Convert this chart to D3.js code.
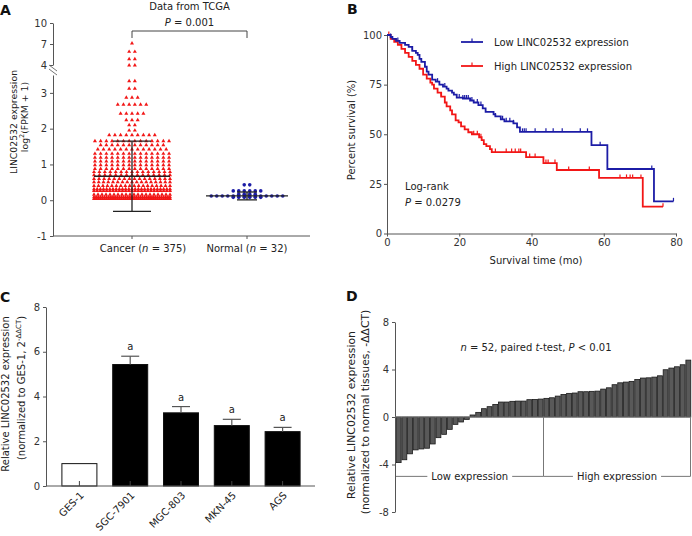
<!DOCTYPE html>
<html><head><meta charset="utf-8">
<script src="https://cdn.jsdelivr.net/npm/d3@7"></script>
<style>
body{margin:0;background:#fff}
svg{display:block;font-family:"DejaVu Sans",Verdana,sans-serif}
.tick text{font-size:10px;fill:#333;font-family:"DejaVu Sans",Verdana,sans-serif}
.axis path,.axis line{stroke:#555}
</style>
</head><body>
<svg id="c" width="692" height="536"></svg>
<script>
// ---------- Panel A data (rows of the scatter: value level, number of samples) ----------
const groupsA = ["Cancer", "Normal"];
const cancerLevels = [7.1,5.9,4.85,3.95,3.33,3.12,2.87,2.67,2.42,2.24,2.1,1.95,1.82,1.65,1.54,1.42,1.3,1.19,1.09,0.98,0.88,0.79,0.7,0.6,0.51,0.4,0.31,0.26,0.16,0.09,0.04];
const cancerCounts = [1,2,2,2,2,2,3,6,5,3,2,2,9,14,12,13,14,14,14,14,14,15,15,16,17,18,25,25,20,37,37];
const normalLevels = [0.43,0.26,0.17,0.12,0.08];
const normalCounts = [2,6,4,14,6];
const cancerStats = {mean:0.67, sd:0.98};
const normalStats = {mean:0.12, sd:0.11};
const yTicksLowA = [-1,0,1,2,3];
const yTicksUpA = [4,7,10];

// ---------- Panel B data (Kaplan-Meier steps) ----------
const lowTimes = [0,1,1.5,2.5,3.5,5,6,7,8,8.5,9,9.5,10.5,11,11.5,12.5,13.5,14.5,15.5,16.5,17,18,18.5,19.3,21,23,24,25.3,26.5,27.3,29.5,30,31.5,32.5,35,36,36.8,56.6,61,73.9,79.3];
const lowSurv  = [100,99,98,97,96,95,94,92,91,90,88,86.5,84,81.5,80,77.5,76.5,75,74,73,72,71,70,68.5,68,67,66,64.7,63,61.3,60,59,57.5,56.5,55.5,53.5,51.2,44.5,32.5,16.2,16.2];
const lowCensor = [1,3,7,14,16,20,21,21.5,22,22.5,23.5,25,26,30,32,33,34,35,37.5,38,38.5,41,44,46,48.5,53.5,55.5,59,73.3,79.3];
const highTimes = [0,1,2,3,4,5,6,7,8,9,10,11,12,12.5,13,14,15,16,16.5,17.5,18,19,19.8,20.5,21.5,22.5,23.5,25.5,26.2,26.8,27.5,28.5,29,38.5,43.3,47,58.7,70.8,76.4];
const highSurv  = [100,98,96.5,95,93,91,89,87,85,83,80,78,76,75,73,71,69,66,64,62,60,57,56,54,52.5,51,50,48.5,47,45,44,42.5,41,38.5,35.5,32,28,13.5,13.5];
const highCensor = [0.5,2.5,15,24,25,26,30,33,34.5,35.5,36.5,37,39.5,41,44,44.6,46.5,50.3,56,64.5,66.3,67.3,68,70.3,76.4];
const xTicksB = [0,20,40,60,80];
const yTicksB = [0,25,50,75,100];

// ---------- Panel C data ----------
const cellLines = ["GES-1","SGC-7901","MGC-803","MKN-45","AGS"];
const cellMeans = [1.0,5.43,3.27,2.7,2.43];
const cellErr   = [0,0.37,0.28,0.28,0.19];
const cellSig   = ["","a","a","a","a"];
const yTicksC = [0,2,4,6,8];

// ---------- Panel D data ----------
const pairedValues = [-3.84,-3.6,-3.1,-2.77,-2.69,-2.63,-2.27,-1.74,-1.46,-1.04,-0.62,-0.42,-0.2,0.17,0.39,0.7,0.87,1.06,1.26,1.26,1.32,1.34,1.34,1.46,1.48,1.51,
  1.57,1.62,1.76,1.9,1.99,2.02,2.13,2.13,2.16,2.18,2.35,2.46,2.72,2.88,2.94,3.0,3.16,3.28,3.3,3.36,3.47,3.98,4.12,4.23,4.4,4.79];
const yTicksD = [-8,-4,0,4,8];
const splitValue = -5;

const RED = "#f21616", BLUE = "#1c1ca6";
const fmt = d => String(d);
const svg = d3.select("#c");

function letter(x, y, t){
  svg.append("text").attr("x",x).attr("y",y).attr("font-size",14).attr("font-weight","bold").attr("fill","#111").text(t);
}
function styleAxis(g){
  g.attr("class","axis").attr("font-family",null).attr("font-size",null);
  g.selectAll(".tick line").attr("stroke","#555"); g.select(".domain").attr("stroke","#555");
}

// =================== Panel A ===================
letter(0,15,"A");
const yLow = d3.scaleLinear().domain([-1,3.5]).range([236,75]);
const yUp = d3.scaleLinear().domain([4,10]).range([65,23]);
const yA = v => v >= 3.75 ? yUp(v) : yLow(v);
const xA = d3.scalePoint().domain(groupsA).range([132,247]);
const axLow = svg.append("g").attr("transform","translate(53,0)")
  .call(d3.axisLeft(yLow).tickValues(yTicksLowA).tickFormat(fmt).tickSize(3).tickSizeOuter(0).tickPadding(3));
styleAxis(axLow);
const axUp = svg.append("g").attr("transform","translate(53,0)")
  .call(d3.axisLeft(yUp).tickValues(yTicksUpA).tickFormat(fmt).tickSize(3).tickSizeOuter(0).tickPadding(3));
styleAxis(axUp);
// break marks
[0,4].forEach(o=>svg.append("line").attr("x1",49).attr("y1",65+o).attr("x2",57).attr("y2",71+o).attr("stroke","#666").attr("stroke-width",0.9));
// x axis
svg.append("line").attr("x1",53).attr("x2",310).attr("y1",yLow(-1)).attr("y2",yLow(-1)).attr("stroke","#555");
groupsA.forEach(g=>svg.append("line").attr("x1",xA(g)).attr("x2",xA(g)).attr("y1",yLow(-1)).attr("y2",yLow(-1)+3).attr("stroke","#555"));
const labA = [["Cancer","375",11],["Normal","32",0]];
labA.forEach(([g,n,dx])=>{
  const t = svg.append("text").attr("x",xA(g)+dx).attr("y",252).attr("text-anchor","middle").attr("font-size",10).attr("fill","#222");
  t.append("tspan").text(g+" (");
  t.append("tspan").attr("font-style","italic").text("n");
  t.append("tspan").text(" = "+n+")");
});
// y label
svg.append("text").attr("transform","translate(17,122) rotate(-90)").attr("text-anchor","middle").attr("font-size",9.3).attr("fill","#222").text("LINC02532 expression");
const ylA2 = svg.append("text").attr("transform","translate(28,117) rotate(-90)").attr("text-anchor","middle").attr("font-size",9.3).attr("fill","#222");
ylA2.append("tspan").text("log");
ylA2.append("tspan").attr("font-size",6.5).attr("dy",-4).text("2");
ylA2.append("tspan").attr("dy",4).text("(FPKM + 1)");
// title & bracket
svg.append("text").attr("x",189.5).attr("y",10).attr("text-anchor","middle").attr("font-size",10).attr("fill","#222").text("Data from TCGA");
const pA = svg.append("text").attr("x",189.5).attr("y",26).attr("text-anchor","middle").attr("font-size",10).attr("fill","#222");
pA.append("tspan").attr("font-style","italic").text("P");
pA.append("tspan").text(" = 0.001");
svg.append("path").attr("d",`M${xA("Cancer")},38V31H${xA("Normal")}V38`).attr("fill","none").attr("stroke","#444").attr("stroke-width",1);

function rowLayout(levels, counts, cx, spacing, maxW){
  const pts=[];
  levels.forEach((v,i)=>{
    const n=counts[i];
    const s = n>1 ? Math.min(spacing, maxW/(n-1)) : 0;
    for(let k=0;k<n;k++) pts.push({x:cx+(k-(n-1)/2)*s, y:yA(v)});
  });
  return pts;
}
const cancerPts = rowLayout(cancerLevels,cancerCounts,xA("Cancer"),5.7,76);
svg.append("g").selectAll("path").data(cancerPts).join("path")
  .attr("transform",d=>`translate(${d.x},${d.y})`).attr("d",d3.symbol(d3.symbolTriangle,7)).attr("fill",RED);
const normalPts = rowLayout(normalLevels,normalCounts,xA("Normal"),5.5,74);
svg.append("g").selectAll("circle").data(normalPts).join("circle")
  .attr("cx",d=>d.x).attr("cy",d=>d.y).attr("r",1.8).attr("fill",BLUE);
function meanSD(cx, st, halfMean, halfCap){
  const g=svg.append("g").attr("stroke","#222").attr("stroke-width",1.3);
  g.append("line").attr("x1",cx-halfMean).attr("x2",cx+halfMean).attr("y1",yA(st.mean)).attr("y2",yA(st.mean));
  g.append("line").attr("x1",cx).attr("x2",cx).attr("y1",yA(st.mean+st.sd)).attr("y2",yA(st.mean-st.sd));
  [st.mean+st.sd, st.mean-st.sd].forEach(v=>g.append("line").attr("x1",cx-halfCap).attr("x2",cx+halfCap).attr("y1",yA(v)).attr("y2",yA(v)));
}
meanSD(xA("Cancer"),cancerStats,38,19);
meanSD(xA("Normal"),normalStats,41,10);

// =================== Panel B ===================
letter(347,14,"B");
const xB = d3.scaleLinear().domain([0,80]).range([387,676]);
const yB = d3.scaleLinear().domain([0,100]).range([233.5,35]);
const axBx = svg.append("g").attr("transform","translate(0,233.5)").call(d3.axisBottom(xB).tickValues(xTicksB).tickFormat(fmt).tickSize(3).tickSizeOuter(0).tickPadding(2));
styleAxis(axBx);
const axBy = svg.append("g").attr("transform","translate(387,0)").call(d3.axisLeft(yB).tickValues(yTicksB).tickFormat(fmt).tickSize(3).tickSizeOuter(0).tickPadding(2));
styleAxis(axBy);
svg.append("text").attr("x",536).attr("y",264).attr("text-anchor","middle").attr("font-size",10).attr("fill","#222").text("Survival time (mo)");
svg.append("text").attr("transform","translate(355,130) rotate(-90)").attr("text-anchor","middle").attr("font-size",10).attr("fill","#222").text("Percent survival (%)");
const lineB = d3.line().x(d=>xB(d[0])).y(d=>yB(d[1])).curve(d3.curveStepAfter);
function survAt(times, surv, t){ let v=surv[0]; for(let i=0;i<times.length;i++){ if(times[i]<=t) v=surv[i]; else break; } return v; }
function km(times, surv, cens, color){
  svg.append("path").datum(times.map((t,i)=>[t,surv[i]])).attr("d",lineB).attr("fill","none").attr("stroke",color).attr("stroke-width",1.8);
  svg.append("g").selectAll("line").data(cens).join("line")
    .attr("x1",d=>xB(d)).attr("x2",d=>xB(d)).attr("y1",d=>yB(survAt(times,surv,d))).attr("y2",d=>yB(survAt(times,surv,d))-3.5)
    .attr("stroke",color).attr("stroke-width",1.2);
}
km(highTimes,highSurv,highCensor,RED);
km(lowTimes,lowSurv,lowCensor,BLUE);
// legend
[["Low LINC02532 expression",BLUE,42],["High LINC02532 expression",RED,66]].forEach(([t,c,y])=>{
  svg.append("line").attr("x1",461).attr("x2",483).attr("y1",y).attr("y2",y).attr("stroke",c).attr("stroke-width",1.8);
  svg.append("line").attr("x1",472).attr("x2",472).attr("y1",y).attr("y2",y-3.5).attr("stroke",c).attr("stroke-width",1.2);
  svg.append("text").attr("x",494).attr("y",y+3.5).attr("font-size",10).attr("fill","#222").text(t);
});
svg.append("text").attr("x",405).attr("y",190).attr("font-size",10).attr("fill","#222").text("Log-rank");
const pB = svg.append("text").attr("x",405).attr("y",206).attr("font-size",10).attr("fill","#222");
pB.append("tspan").attr("font-style","italic").text("P");
pB.append("tspan").text(" = 0.0279");

// =================== Panel C ===================
letter(0,302,"C");
const yC = d3.scaleLinear().domain([0,8]).range([486,307]);
const xC = d3.scalePoint().domain(cellLines).range([54,308]).padding(0.5);
const bwC = 35;
svg.append("g").selectAll("rect").data(cellLines).join("rect")
  .attr("x",d=>xC(d)-bwC/2).attr("width",bwC).attr("y",(d,i)=>yC(cellMeans[i])).attr("height",(d,i)=>yC(0)-yC(cellMeans[i]))
  .attr("fill",(d,i)=>i===0?"#fff":"#000").attr("stroke","#111").attr("stroke-width",1);
cellLines.forEach((d,i)=>{
  if(cellErr[i]>0){
    const g=svg.append("g").attr("stroke","#555").attr("stroke-width",1.2);
    g.append("line").attr("x1",xC(d)).attr("x2",xC(d)).attr("y1",yC(cellMeans[i])).attr("y2",yC(cellMeans[i]+cellErr[i]));
    g.append("line").attr("x1",xC(d)-9).attr("x2",xC(d)+9).attr("y1",yC(cellMeans[i]+cellErr[i])).attr("y2",yC(cellMeans[i]+cellErr[i]));
  }
  if(cellSig[i]) svg.append("text").attr("x",xC(d)).attr("y",yC(cellMeans[i]+cellErr[i])-6).attr("text-anchor","middle").attr("font-size",10).attr("fill","#222").text(cellSig[i]);
});
const axCy = svg.append("g").attr("transform","translate(46,0)").call(d3.axisLeft(yC).tickValues(yTicksC).tickFormat(fmt).tickSize(3).tickSizeOuter(0).tickPadding(3));
styleAxis(axCy);
svg.append("line").attr("x1",46).attr("x2",315).attr("y1",yC(0)).attr("y2",yC(0)).attr("stroke","#555");
cellLines.forEach(d=>{
  svg.append("line").attr("x1",xC(d)).attr("x2",xC(d)).attr("y1",yC(0)).attr("y2",yC(0)-5).attr("stroke","#444");
  svg.append("text").attr("transform",`translate(${xC(d)+5},${yC(0)+10}) rotate(-45)`).attr("text-anchor","end").attr("font-size",10).attr("fill","#222").text(d);
});
svg.append("text").attr("transform","translate(9,394) rotate(-90)").attr("text-anchor","middle").attr("font-size",10).attr("fill","#222").text("Relative LINC02532 expression");
const ylC2 = svg.append("text").attr("transform","translate(25,388) rotate(-90)").attr("text-anchor","middle").attr("font-size",10).attr("fill","#222");
ylC2.append("tspan").text("(normalized to GES-1, 2");
ylC2.append("tspan").attr("font-size",7).attr("dy",-4.5).text("-ΔΔCT");
ylC2.append("tspan").attr("dy",4.5).text(")");

// =================== Panel D ===================
letter(346,301,"D");
const yD = d3.scaleLinear().domain([-8,8]).range([512,322]);
const xD = d3.scaleBand().domain(d3.range(pairedValues.length)).range([396,691]).paddingInner(0.14).paddingOuter(0.04);
svg.append("g").selectAll("rect").data(pairedValues).join("rect")
  .attr("x",(d,i)=>xD(i)).attr("width",xD.bandwidth())
  .attr("y",d=>yD(Math.max(0,d))).attr("height",d=>Math.abs(yD(d)-yD(0)))
  .attr("fill","#595959").attr("stroke","#1a1a1a").attr("stroke-width",0.8);
const axDy = svg.append("g").attr("transform","translate(395,0)").call(d3.axisLeft(yD).tickValues(yTicksD).tickFormat(fmt).tickSize(3).tickSizeOuter(0).tickPadding(3));
styleAxis(axDy);
svg.append("line").attr("x1",395).attr("x2",691).attr("y1",yD(0)).attr("y2",yD(0)).attr("stroke","#777");
const nLow = pairedValues.length/2;
const xSplit = (xD(nLow-1)+xD.bandwidth()+xD(nLow))/2;
const xEnd = 690.5;
const ySplit = yD(splitValue);
const gS = svg.append("g").attr("stroke","#777").attr("stroke-width",1);
gS.append("line").attr("x1",xSplit).attr("x2",xSplit).attr("y1",yD(0)).attr("y2",ySplit);
gS.append("line").attr("x1",xEnd).attr("x2",xEnd).attr("y1",yD(0)).attr("y2",ySplit);
[["Low expression",396,xSplit],["High expression",xSplit,xEnd]].forEach(([t,a,b])=>{
  const tx = svg.append("text").attr("x",(a+b)/2).attr("y",ySplit+4).attr("text-anchor","middle").attr("font-size",10).attr("fill","#222").text(t);
  const w = tx.node().getComputedTextLength();
  gS.append("line").attr("x1",a).attr("x2",(a+b)/2-w/2-4).attr("y1",ySplit).attr("y2",ySplit);
  gS.append("line").attr("x1",(a+b)/2+w/2+4).attr("x2",b).attr("y1",ySplit).attr("y2",ySplit);
});
const tD = svg.append("text").attr("x",536).attr("y",351).attr("text-anchor","middle").attr("font-size",10).attr("fill","#222");
tD.append("tspan").attr("font-style","italic").text("n");
tD.append("tspan").text(" = 52, paired ");
tD.append("tspan").attr("font-style","italic").text("t");
tD.append("tspan").text("-test, ");
tD.append("tspan").attr("font-style","italic").text("P");
tD.append("tspan").text(" < 0.01");
svg.append("text").attr("transform","translate(355,415) rotate(-90)").attr("text-anchor","middle").attr("font-size",10.8).attr("fill","#222").text("Relative LINC02532 expression");
svg.append("text").attr("transform","translate(369,412) rotate(-90)").attr("text-anchor","middle").attr("font-size",10.8).attr("fill","#222").text("(normalized to normal tissues, -ΔΔCT)");
</script>
</body></html>
